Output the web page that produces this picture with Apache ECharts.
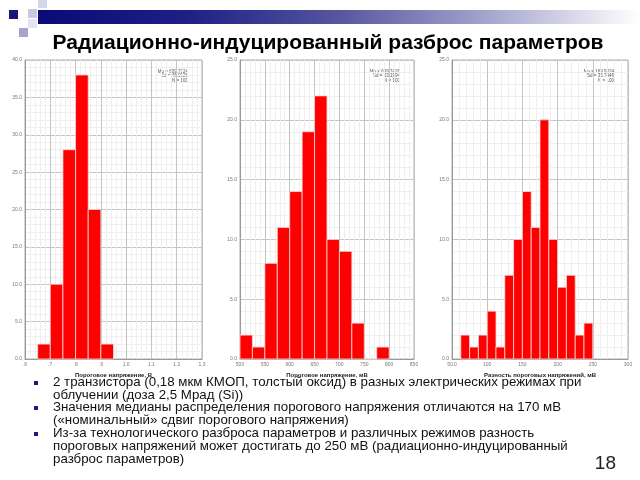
<!DOCTYPE html>
<html>
<head>
<meta charset="utf-8">
<script src="https://cdn.jsdelivr.net/npm/echarts@6/dist/echarts.min.js"></script>
<style>
  html, body { margin: 0; padding: 0; background: #fff; }
  #main { width: 640px; height: 480px; }
</style>
</head>
<body>
<div id="main"></div>
<script>
// histogram 1: threshold voltage, V
const binsVth1 = [0.65, 0.70, 0.75, 0.80, 0.85, 0.90];
const countsVth1 = [2, 10, 28, 38, 20, 2];
const binWidthVth1 = 0.05;
const xTicksVth1 = [".6", ".7", ".8", ".9", "1.0", "1.1", "1.2", "1.3"];

// histogram 2: threshold voltage, mV
const binsVth2 = [500, 525, 550, 575, 600, 625, 650, 675, 700, 725, 750, 775];
const countsVth2 = [2, 1, 8, 11, 14, 19, 22, 10, 9, 3, 0, 1];
const binWidthVth2 = 25;
const xTicksVth2 = ["500", "550", "600", "650", "700", "750", "800", "850"];

// histogram 3: threshold voltage difference, mV
const binsDiff = [62.5, 75, 87.5, 100, 112.5, 125, 137.5, 150, 162.5, 175, 187.5, 200, 212.5, 225, 237.5];
const countsDiff = [2, 1, 2, 4, 1, 7, 10, 14, 11, 20, 10, 6, 7, 2, 3];
const binWidthDiff = 12.5;
const xTicksDiff = ["50.0", "100", "150", "200", "250", "300"];

const stats = [
  ["Mu = 809.7324", "Sd = 48.0326", "N = 100"],
  ["Mu = 639.7426", "Sd = 53.1994", "N = 100"],
  ["Mu = 169.9324", "Sd = 35.7446", "N = 100"]
];

const bullets = [
  "2 транзистора (0,18 мкм КМОП, толстый оксид) в разных электрических режимах при\nоблучении (доза 2,5 Мрад (Si))",
  "Значения медианы распределения порогового напряжения отличаются на 170 мВ\n(«номинальный» сдвиг порогового напряжения)",
  "Из-за технологического разброса параметров и различных режимов разность\nпороговых напряжений может достигать до 250 мВ (радиационно-индуцированный\nразброс параметров)"
];

const font = "Liberation Sans, Arial, sans-serif";

function binData(bins, counts, width) {
  return bins.map((b, i) => [b, counts[i], b + width]);
}

function renderBin(params, api) {
  const p0 = api.coord([api.value(0), 0]);
  const p1 = api.coord([api.value(2), api.value(1)]);
  return {
    type: "rect",
    shape: { x: p0[0], y: p1[1], width: p1[0] - p0[0], height: p0[1] - p1[1] },
    style: { fill: "#ff0000", stroke: "#f4dcdc", lineWidth: 0.8 }
  };
}

function xAxisOf(idx, min, max, interval, ticks, name) {
  return {
    type: "value", gridIndex: idx, min: min, max: max, interval: interval,
    name: name, nameLocation: "middle", nameGap: 9,
    nameTextStyle: { fontSize: 6, fontWeight: "bold", color: "#222", fontFamily: font },
    axisLine: { show: true, lineStyle: { color: "#999", width: 1 } },
    axisTick: { show: false },
    axisLabel: {
      fontSize: 5, color: "#777", margin: 3, fontFamily: font,
      formatter: (v) => ticks[Math.round((v - min) / interval)]
    },
    splitLine: { show: true, lineStyle: { color: "#c4c4c4", width: 1 } },
    minorTick: { show: true, splitNumber: 5, length: 0 },
    minorSplitLine: { show: true, lineStyle: { color: "#efefef", width: 1 } }
  };
}

function yAxisOf(idx, max) {
  return {
    type: "value", gridIndex: idx, min: 0, max: max, interval: 5,
    axisLine: { show: true, lineStyle: { color: "#999", width: 1 } },
    axisTick: { show: false },
    axisLabel: { fontSize: 5, color: "#777", margin: 3, fontFamily: font, formatter: (v) => v.toFixed(1) },
    splitLine: { show: true, lineStyle: { color: "#c4c4c4", width: 1 } },
    minorTick: { show: true, splitNumber: 5, length: 0 },
    minorSplitLine: { show: true, lineStyle: { color: "#efefef", width: 1 } }
  };
}

const grids = [
  { left: 25, top: 60, width: 177, height: 299 },
  { left: 240, top: 60, width: 174, height: 299 },
  { left: 452, top: 60, width: 176, height: 299 }
];

const graphics = [
  // slide decoration
  { type: "rect", shape: { x: 38, y: 10, width: 602, height: 14 },
    style: { fill: new echarts.graphic.LinearGradient(0, 0, 1, 0, [
      { offset: 0, color: "#0a0a78" }, { offset: 0.25, color: "#1f1f86" },
      { offset: 0.5, color: "#5656a0" }, { offset: 0.75, color: "#a6a6ce" },
      { offset: 1, color: "#ffffff" }]) } },
  { type: "rect", shape: { x: 9, y: 10, width: 9, height: 9 }, style: { fill: "#16167c" } },
  { type: "rect", shape: { x: 28, y: 9, width: 9, height: 9 }, style: { fill: "#c9c9df" } },
  { type: "rect", shape: { x: 38, y: 0, width: 9, height: 8 }, style: { fill: "#d6d6ea" } },
  { type: "rect", shape: { x: 28, y: 19, width: 9, height: 9 }, style: { fill: "#e4e4f2" } },
  { type: "rect", shape: { x: 19, y: 28, width: 9, height: 9 }, style: { fill: "#a4a4cc" } },
  { type: "text", x: 328, y: 43,
    style: { text: "Радиационно-индуцированный разброс параметров", fontSize: 21, fontWeight: "bold",
      fill: "#000", fontFamily: font, align: "center", verticalAlign: "middle" } },
  { type: "text", x: 616, y: 464,
    style: { text: "18", fontSize: 19, fill: "#222", fontFamily: font, align: "right", verticalAlign: "middle" } }
];

const bulletY = [376, 401, 427];
bullets.forEach((t, i) => {
  graphics.push({ type: "rect", shape: { x: 34, y: bulletY[i] + 5, width: 4, height: 4 }, style: { fill: "#1a1a80" } });
  graphics.push({ type: "text", x: 53, y: bulletY[i],
    style: { text: t, fontSize: 13.3, lineHeight: 13, fill: "#111", fontFamily: font } });
});

grids.forEach((g, i) => {
  graphics.push({ type: "text", x: g.left + g.width - 14, y: g.top + 9,
    style: { text: stats[i].join("\n"), fontSize: 4.5, lineHeight: 4.6, fill: "#555", fontFamily: font, align: "right" } });
});

const chart = echarts.init(document.getElementById("main"));
chart.setOption({
  animation: false,
  backgroundColor: "#fff",
  grid: grids.map((g) => Object.assign({ show: true, borderColor: "#aaa", borderWidth: 1, backgroundColor: "#fff" }, g)),
  xAxis: [
    xAxisOf(0, 0.6, 1.3, 0.1, xTicksVth1, "Пороговое напряжение, В"),
    xAxisOf(1, 500, 850, 50, xTicksVth2, "Пороговое напряжение, мВ"),
    xAxisOf(2, 50, 300, 50, xTicksDiff, "Разность пороговых напряжений, мВ")
  ],
  yAxis: [yAxisOf(0, 40), yAxisOf(1, 25), yAxisOf(2, 25)],
  series: [
    { type: "custom", xAxisIndex: 0, yAxisIndex: 0, renderItem: renderBin, encode: { x: [0, 2], y: 1 },
      data: binData(binsVth1, countsVth1, binWidthVth1) },
    { type: "custom", xAxisIndex: 1, yAxisIndex: 1, renderItem: renderBin, encode: { x: [0, 2], y: 1 },
      data: binData(binsVth2, countsVth2, binWidthVth2) },
    { type: "custom", xAxisIndex: 2, yAxisIndex: 2, renderItem: renderBin, encode: { x: [0, 2], y: 1 },
      data: binData(binsDiff, countsDiff, binWidthDiff) }
  ],
  graphic: graphics
});
</script>
</body>
</html>
